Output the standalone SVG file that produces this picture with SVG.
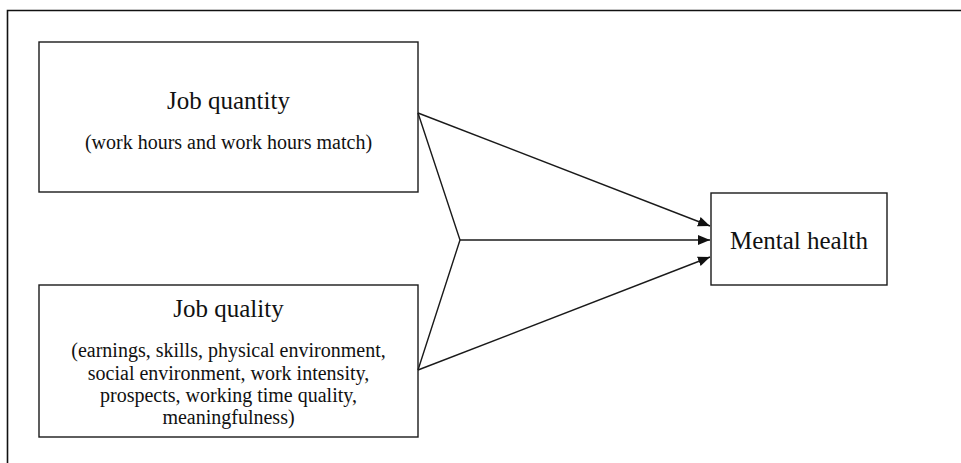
<svg xmlns="http://www.w3.org/2000/svg" width="961" height="463" viewBox="0 0 961 463">
<style>
.box{fill:#fff;stroke:#1a1a1a;stroke-width:1.4}
.t{font-family:"Liberation Serif","Times New Roman",serif;fill:#111;text-anchor:middle}
.big{font-size:25px}
.sm{font-size:20px}
.ln{stroke:#1a1a1a;stroke-width:1.4;fill:none}
</style>
<defs>
<marker id="ah" viewBox="0 0 12 10" refX="12" refY="5" markerWidth="12" markerHeight="10" markerUnits="userSpaceOnUse" orient="auto">
<path d="M0,0 L12,5 L0,10 Z" fill="#111"/>
</marker>
</defs>
<rect width="961" height="463" fill="#fff"/>
<path d="M7.5,475 V10.5 H975" fill="none" stroke="#111" stroke-width="1.6"/>
<g id="job-quantity">
<rect class="box" x="39" y="42" width="379" height="150"/>
<text class="t big" x="228.5" y="109">Job quantity</text>
<text class="t sm" x="228.5" y="149">(work hours and work hours match)</text>
</g>
<g id="job-quality">
<rect class="box" x="39" y="285" width="379" height="152"/>
<text class="t big" x="228.5" y="317">Job quality</text>
<text class="t sm" x="228.5" y="357">(earnings, skills, physical environment,</text>
<text class="t sm" x="228.5" y="379.5">social environment, work intensity,</text>
<text class="t sm" x="228.5" y="402">prospects, working time quality,</text>
<text class="t sm" x="228.5" y="424">meaningfulness)</text>
</g>
<g id="mental-health">
<rect class="box" x="711" y="193" width="176" height="92"/>
<text class="t big" x="799" y="249">Mental health</text>
</g>
<g id="connectors">
<line class="ln" x1="418" y1="113" x2="710" y2="226" marker-end="url(#ah)"/>
<polyline class="ln" points="418,113 460,240 418,370"/>
<line class="ln" x1="460" y1="240" x2="710" y2="240" marker-end="url(#ah)"/>
<line class="ln" x1="418" y1="370" x2="710" y2="257" marker-end="url(#ah)"/>
</g>
</svg>
